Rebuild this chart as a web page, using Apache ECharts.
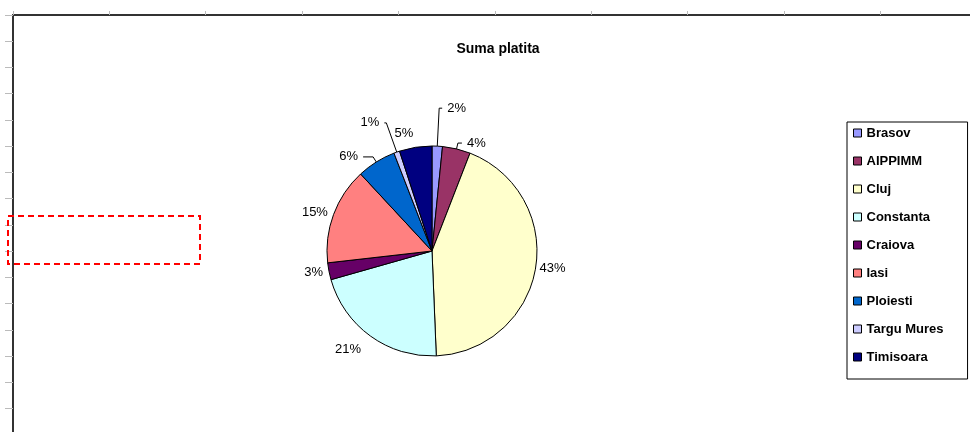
<!DOCTYPE html>
<html>
<head>
<meta charset="utf-8">
<script src="https://cdn.jsdelivr.net/npm/echarts@6/dist/echarts.min.js"></script>
<style>
  html, body { margin: 0; padding: 0; background: #fff; }
  #chart { width: 970px; height: 432px; }
</style>
</head>
<body>
<div id="chart"></div>
<script>
// date (procente din suma platita)
const cities = ['Brasov', 'AIPPIMM', 'Cluj', 'Constanta', 'Craiova', 'Iasi', 'Ploiesti', 'Targu Mures', 'Timisoara']
const shares = [1.6, 4.3, 43.45, 21.25, 2.6, 14.9, 6.0, 0.9, 5.0]
const colors = ['#9999FF', '#993366', '#FFFFCC', '#CCFFFF', '#660066', '#FF8080', '#0066CC', '#CCCCFF', '#000080']

// linii de legatura pentru etichete: [length, length2, vizibila, distanta text]
const leaders = {
  'Brasov': [38, 3, true, 5],
  'AIPPIMM': [6, 4, true, 5],
  'Cluj': [4, 0, false, 0],
  'Constanta': [16, 0, false, 0],
  'Craiova': [6, 0, false, 0],
  'Iasi': [6, 0, false, 0],
  'Ploiesti': [6, 10, true, 5],
  'Targu Mures': [31, 2, true, 5],
  'Timisoara': [14, 0, false, 0]
}

const chart = echarts.init(document.getElementById('chart'), null, { renderer: 'canvas' })

const option = {
  animation: false,
  backgroundColor: '#fff',
  title: {
    text: 'Suma platita',
    left: 493,
    top: 37,
    textAlign: 'center',
    textStyle: { fontFamily: 'Arial, Liberation Sans', fontSize: 14, fontWeight: 'bold', color: '#000' }
  },
  // rama graficului (margine stanga si sus, cu gradatii)
  grid: { left: 13, top: 15, right: 0, bottom: 0 },
  xAxis: {
    type: 'value',
    position: 'top',
    min: 0,
    max: 9.93,
    interval: 1,
    axisLine: { show: true, lineStyle: { color: '#333', width: 2 } },
    axisTick: { show: true, length: 4, lineStyle: { color: '#bbb' } },
    axisLabel: { show: false },
    splitLine: { show: false }
  },
  yAxis: {
    type: 'value',
    inverse: true,
    min: 0,
    max: 15.89,
    interval: 1,
    axisLine: { show: true, lineStyle: { color: '#333', width: 2 } },
    axisTick: { show: true, length: 8, lineStyle: { color: '#bbb' } },
    axisLabel: { show: false },
    splitLine: { show: false }
  },
  legend: {
    orient: 'vertical',
    left: 847,
    top: 122,
    padding: [4, 24, 15, 6],
    itemGap: 14,
    itemWidth: 8,
    itemHeight: 8,
    icon: 'rect',
    borderColor: '#000',
    borderWidth: 1,
    itemStyle: { borderColor: '#000', borderWidth: 1 },
    textStyle: { fontFamily: 'Arial, Liberation Sans', fontSize: 13, fontWeight: 'bold', color: '#000', lineHeight: 14 },
    data: cities
  },
  graphic: [
    {
      type: 'rect',
      shape: { x: 8, y: 216, width: 192, height: 48 },
      style: { fill: 'none', stroke: '#ff0000', lineWidth: 2, lineDash: [6, 4] },
      z: 10
    }
  ],
  series: [
    {
      name: 'Suma platita',
      type: 'pie',
      center: [432, 251],
      radius: 105,
      startAngle: 90,
      clockwise: true,
      avoidLabelOverlap: false,
      itemStyle: { borderColor: '#000', borderWidth: 1 },
      label: {
        show: true,
        position: 'outside',
        formatter: (p) => Math.round(p.percent) + '%',
        fontFamily: 'Arial, Liberation Sans',
        fontSize: 13,
        color: '#000'
      },
      labelLine: { show: false, lineStyle: { color: '#000', width: 1 } },
      emphasis: { disabled: true },
      data: cities.map((name, i) => ({
        name: name,
        value: shares[i],
        itemStyle: { color: colors[i] },
        label: { distanceToLabelLine: leaders[name][3] },
        labelLine: {
          show: leaders[name][2],
          length: leaders[name][0],
          length2: leaders[name][1]
        }
      }))
    }
  ]
}

chart.setOption(option)
</script>
</body>
</html>
